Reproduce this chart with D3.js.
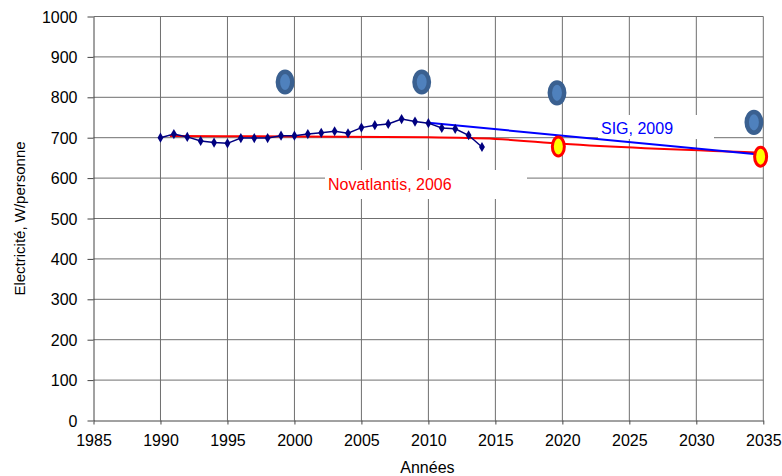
<!DOCTYPE html>
<html>
<head>
<meta charset="utf-8">
<script src="https://cdn.jsdelivr.net/npm/d3@7"></script>
<style>
  html, body { margin: 0; padding: 0; background: #fff; }
  svg { display: block; font-family: "Liberation Sans", Arial, sans-serif; }
</style>
</head>
<body>
<svg id="chart" width="782" height="476"></svg>
<script>
// ---- data ----
const obsYears = [1990,1991,1992,1993,1994,1995,1996,1997,1998,1999,2000,2001,2002,2003,2004,2005,2006,2007,2008,2009,2010,2011,2012,2013,2014];
const obsValues = [700,709,702,692,688,686,699,699,699,705,705,709,712,716,711,725,731,734,746,740,736,724,722,706,677];

const sigYears = [2010, 2034.5];
const sigValues = [737, 659];

const novaYears = [1990.7, 2000, 2010, 2015, 2020, 2034.8];
const novaValues = [704, 703, 701, 697, 685, 663];

const blueMarkYears = [1999.3, 2009.5, 2019.6, 2034.3];
const blueMarkValues = [838, 838, 811, 738];

const yellowMarkYears = [2019.7, 2034.8];
const yellowMarkValues = [678, 653];

const xTicks = [1985,1990,1995,2000,2005,2010,2015,2020,2025,2030,2035];
const yTicks = [0,100,200,300,400,500,600,700,800,900,1000];

const xTitle = "Années";
const yTitle = "Electricité, W/personne";
const sigLabel = "SIG, 2009";
const novaLabel = "Novatlantis, 2006";

// ---- layout ----
const svg = d3.select("#chart");
const L = 93.5, R = 763.3, T = 16.5, B = 420.5;
const x = d3.scaleLinear().domain([1985, 2035]).range([L, R]);
const y = d3.scaleLinear().domain([0, 1000]).range([B, T]);

const gridColor = "#6f6f6f";

// gridlines
const grid = svg.append("g");
grid.selectAll("line.v").data(xTicks.slice(1)).enter().append("line")
  .attr("x1", d => x(d)).attr("x2", d => x(d))
  .attr("y1", T).attr("y2", B)
  .attr("stroke", gridColor).attr("stroke-width", 1);
grid.selectAll("line.h").data(yTicks.slice(1)).enter().append("line")
  .attr("x1", L).attr("x2", R)
  .attr("y1", d => y(d)).attr("y2", d => y(d))
  .attr("stroke", gridColor).attr("stroke-width", 1);

// white label boxes (cover gridlines)
svg.append("rect").attr("x", 598).attr("y", 115).attr("width", 116).attr("height", 24).attr("fill", "#fff");
svg.append("rect").attr("x", 325).attr("y", 170).attr("width", 202).attr("height", 29).attr("fill", "#fff");

// axes
const xAxis = d3.axisBottom(x).tickValues(xTicks).tickFormat(d3.format("d")).tickSize(4).tickSizeOuter(0);
const gx = svg.append("g").attr("transform", `translate(0,${B})`).call(xAxis);
gx.select(".domain").attr("stroke", "#444");
gx.selectAll(".tick line").attr("stroke", "#444");
gx.selectAll(".tick text").attr("y", 25).attr("dy", 0)
  .attr("font-size", 16).attr("fill", "#000").attr("font-family", "Liberation Sans, Arial, sans-serif");

const yAxis = d3.axisLeft(y).tickValues(yTicks).tickFormat(d3.format("d")).tickSize(6).tickPadding(10).tickSizeOuter(0);
const gy = svg.append("g").attr("transform", `translate(${L},0)`).call(yAxis);
gy.select(".domain").attr("stroke", "#444");
gy.selectAll(".tick line").attr("stroke", "#444");
gy.selectAll(".tick text").attr("dy", "0.35em")
  .attr("font-size", 16).attr("fill", "#000").attr("font-family", "Liberation Sans, Arial, sans-serif");

// axis titles
svg.append("text").attr("x", (L + R) / 2 - 1).attr("y", 473)
  .attr("text-anchor", "middle").attr("font-size", 16).attr("fill", "#000").text(xTitle);
svg.append("text").attr("transform", `translate(25,${(T + B) / 2}) rotate(-90)`)
  .attr("text-anchor", "middle").attr("font-size", 15).attr("fill", "#000").text(yTitle);

// Novatlantis line (red)
const novaData = novaYears.map((d, i) => [d, novaValues[i]]);
svg.append("path").datum(novaData)
  .attr("d", d3.line().x(d => x(d[0])).y(d => y(d[1])).curve(d3.curveMonotoneX))
  .attr("fill", "none").attr("stroke", "#ff0000").attr("stroke-width", 2);

// SIG line (blue)
const sigData = sigYears.map((d, i) => [d, sigValues[i]]);
svg.append("path").datum(sigData)
  .attr("d", d3.line().x(d => x(d[0])).y(d => y(d[1])))
  .attr("fill", "none").attr("stroke", "#0000ff").attr("stroke-width", 2);

// observed series (navy with diamonds)
const obsData = obsYears.map((d, i) => [d, obsValues[i]]);
svg.append("path").datum(obsData)
  .attr("d", d3.line().x(d => x(d[0])).y(d => y(d[1])))
  .attr("fill", "none").attr("stroke", "#000080").attr("stroke-width", 1.5);
svg.selectAll("path.dia").data(obsData).enter().append("path")
  .attr("transform", d => `translate(${x(d[0])},${y(d[1])})`)
  .attr("d", d3.symbol().type(d3.symbolDiamond).size(30))
  .attr("fill", "#000080");

// blue oval markers
blueMarkYears.forEach((yr, i) => {
  svg.append("ellipse").attr("cx", x(yr)).attr("cy", y(blueMarkValues[i]))
    .attr("rx", 7.2).attr("ry", 10.3)
    .attr("fill", "#4f81bd").attr("stroke", "#3a6090").attr("stroke-width", 4.5);
});

// yellow oval markers
yellowMarkYears.forEach((yr, i) => {
  svg.append("ellipse").attr("cx", x(yr)).attr("cy", y(yellowMarkValues[i]))
    .attr("rx", 6).attr("ry", 9.5)
    .attr("fill", "#ffff00").attr("stroke", "#ff0000").attr("stroke-width", 3);
});

// labels
svg.append("text").attr("x", 601).attr("y", 134).attr("font-size", 16).attr("fill", "#0000ff").text(sigLabel);
svg.append("text").attr("x", 328).attr("y", 189.5).attr("font-size", 16).attr("fill", "#ff0000").text(novaLabel);
</script>
</body>
</html>
